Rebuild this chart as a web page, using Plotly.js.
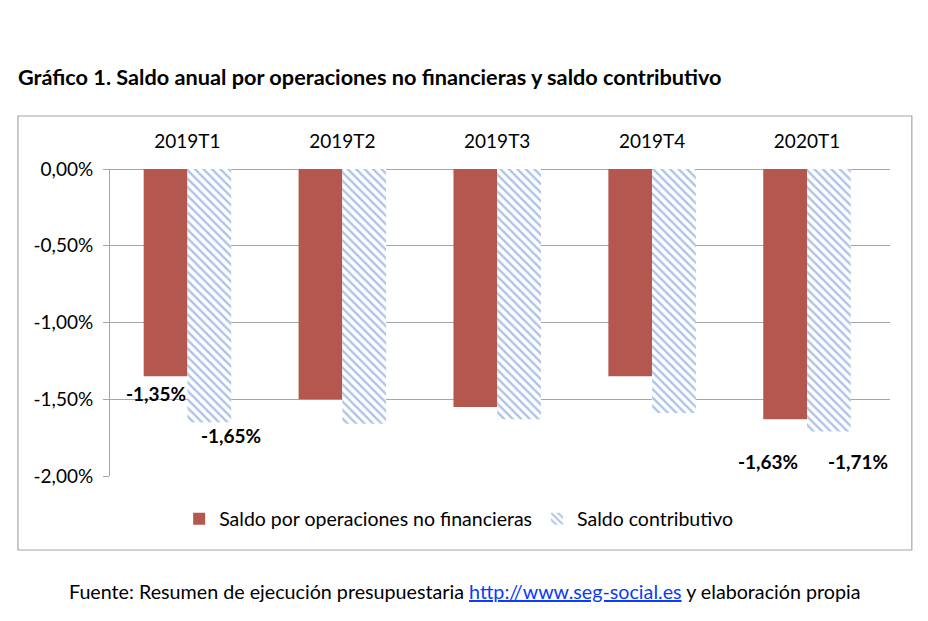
<!DOCTYPE html>
<html><head><meta charset="utf-8">
<script src="https://cdn.plot.ly/plotly-3.0.1.min.js"></script>
<style>body{margin:0;background:#fff}#c{width:928px;height:621px}</style>
</head><body><div id="c"></div>
<script>
const categories = ["2019T1","2019T2","2019T3","2019T4","2020T1"];
const saldoNoFinanciero = [-1.35,-1.50,-1.55,-1.35,-1.63];
const saldoContributivo = [-1.65,-1.66,-1.63,-1.59,-1.71];
const seriesNames = ["Saldo por operaciones no financieras","Saldo contributivo"];
const yTicks = [0,-0.5,-1,-1.5,-2];
// labelled points: [seriesIndex, categoryIndex, xshift, yshift]
const labelled = [[0,0,-31,-17],[1,0,44,-13],[0,4,-39,-42],[1,4,51,-30]];

const FONT = "Lato, 'Open Sans', sans-serif";
const grid = "#a6a6a6";
const fmt = v => (v < 0 ? "-" : "") + Math.abs(v).toFixed(2).replace(".", ",") + "%";

const traces = [
  {type:"bar", name:seriesNames[0], x:categories, y:saldoNoFinanciero,
   marker:{color:"#B4574F", line:{width:0}}},
  {type:"bar", name:seriesNames[1], x:categories, y:saldoContributivo,
   marker:{color:"#ffffff", line:{width:0},
     pattern:{shape:"\\", fgcolor:"#5F88D0", bgcolor:"#ffffff", size:6, solidity:0.4, fillmode:"overlay"}}}
];

const series = [saldoNoFinanciero, saldoContributivo];
const annotations = labelled.map(([s,c,dx,dy]) => ({
  x: categories[c], y: series[s][c], xref:"x", yref:"y",
  text: "<b>" + fmt(series[s][c]) + "</b>", showarrow:false,
  xshift: dx, yshift: dy, font:{family:FONT, size:19, color:"#000"}
}));
annotations.push({
  xref:"paper", yref:"paper", x:0.455, y:-0.375, xanchor:"center", yanchor:"middle",
  showarrow:false,
  text:"Fuente: Resumen de ejecución presupuestaria <span style='color:#0B3BF5'><u>http://www.seg-social.es</u></span> y elaboración propia",
  font:{family:FONT, size:19.7, color:"#000"}
});

const layout = {
  width:928, height:621,
  margin:{l:110, r:38, t:169, b:145},
  paper_bgcolor:"#fff", plot_bgcolor:"#fff",
  font:{family:FONT, size:19, color:"#000"},
  title:{text:"<b>Gráfico 1. Saldo anual por operaciones no financieras y saldo contributivo</b>",
    x:0.0194, xanchor:"left", xref:"container", y:0.876, yanchor:"middle", yref:"container",
    font:{family:FONT, size:21.7, color:"#000"}},
  barmode:"group", bargap:0.435, bargroupgap:0,
  showlegend:true,
  legend:{orientation:"h", x:0.447, xanchor:"center", y:-0.14, yanchor:"middle",
    font:{family:FONT, size:19.5, color:"#000"}, tracegroupgap:0},
  xaxis:{type:"category", side:"top", showline:false, showgrid:false, zeroline:false,
    ticks:"", ticklabelstandoff:16, tickfont:{family:FONT, size:19}, fixedrange:true},
  yaxis:{range:[-2,0], tickvals:yTicks, ticktext:yTicks.map(fmt),
    showgrid:true, gridcolor:grid, gridwidth:1, zeroline:true, zerolinecolor:grid, zerolinewidth:1,
    showline:true, linecolor:grid, linewidth:1, ticks:"outside", ticklen:6, tickcolor:grid,
    ticklabelstandoff:6, tickfont:{family:FONT, size:19}, fixedrange:true},
  annotations: annotations,
  shapes:[{type:"rect", xref:"paper", yref:"paper", x0:-0.118, x1:1.028, y0:-0.241, y1:1.1726,
    line:{color:"#a6a6a6", width:1.2}, fillcolor:"rgba(0,0,0,0)", layer:"below"}]
};

Plotly.newPlot("c", traces, layout, {staticPlot:true, displayModeBar:false});
</script></body></html>
